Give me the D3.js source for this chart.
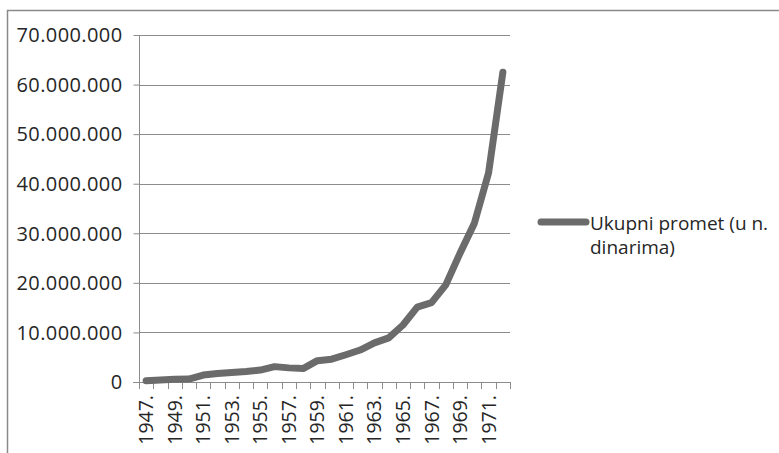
<!DOCTYPE html>
<html>
<head>
<meta charset="utf-8">
<script src="https://cdn.jsdelivr.net/npm/d3@7"></script>
<style>
  body { margin: 0; background: #fff; }
  svg { display: block; font-family: "Open Sans", sans-serif; }
</style>
</head>
<body>
<svg id="chart" width="779" height="453"></svg>
<script>
// years on the category axis
var years = ['1947.', '1948.', '1949.', '1950.', '1951.', '1952.', '1953.', '1954.',
  '1955.', '1956.', '1957.', '1958.', '1959.', '1960.', '1961.', '1962.', '1963.',
  '1964.', '1965.', '1966.', '1967.', '1968.', '1969.', '1970.', '1971.', '1972.'];
// Ukupni promet (u n. dinarima)
var promet = [250000, 400000, 550000, 600000, 1400000, 1700000, 1900000, 2100000,
  2400000, 3100000, 2850000, 2700000, 4300000, 4600000, 5500000, 6450000, 7900000,
  8900000, 11500000, 15100000, 16000000, 19600000, 26000000, 32000000, 42200000, 62500000];
var yTicks = [0, 10000000, 20000000, 30000000, 40000000, 50000000, 60000000, 70000000];
var seriesName = ['Ukupni promet (u n.', 'dinarima)'];

var svg = d3.select('#chart');
var plotLeft = 139, plotRight = 510, plotTop = 35, plotBottom = 382;
var lineColor = '#6b6b6b';
var gridColor = '#8c8c8c';

var fmt = d3.formatLocale({ decimal: ',', thousands: '.', grouping: [3], currency: ['', ''] }).format(',.0f');

var x = d3.scaleBand().domain(years).range([plotLeft, plotRight]).padding(0);
var y = d3.scaleLinear().domain([0, 70000000]).range([plotBottom, plotTop]);

// chart frame
svg.append('rect')
  .attr('x', 7.5).attr('y', 10.5)
  .attr('width', 900).attr('height', 600)
  .attr('fill', 'none').attr('stroke', '#8a8a8a').attr('stroke-width', 1.5);

// gridlines
svg.append('g').selectAll('line').data(yTicks.slice(1)).enter().append('line')
  .attr('x1', plotLeft).attr('x2', plotRight)
  .attr('y1', d => Math.round(y(d)) + 0.5).attr('y2', d => Math.round(y(d)) + 0.5)
  .attr('stroke', gridColor).attr('stroke-width', 1);

// y axis
var yAxis = svg.append('g')
  .attr('transform', `translate(${plotLeft + 0.5},0)`)
  .call(d3.axisLeft(y).tickValues(yTicks).tickFormat(fmt).tickSize(6).tickPadding(11));
yAxis.select('.domain').attr('stroke', gridColor).attr('d', `M0,${plotTop}V${plotBottom}`);
yAxis.selectAll('.tick line').attr('stroke', gridColor);
yAxis.selectAll('.tick text')
  .attr('fill', '#262626').attr('font-size', 20)
  .attr('font-family', '"Open Sans", sans-serif')
  .attr('letter-spacing', 0.4)
  .attr('dy', '0.34em');

// x axis
svg.append('line')
  .attr('x1', plotLeft - 6).attr('x2', plotRight)
  .attr('y1', plotBottom + 0.5).attr('y2', plotBottom + 0.5)
  .attr('stroke', gridColor);
var bounds = years.map(d => x(d)).concat([x.range()[1]]);
svg.append('g').selectAll('line').data(bounds).enter().append('line')
  .attr('x1', d => Math.round(d) + 0.5).attr('x2', d => Math.round(d) + 0.5)
  .attr('y1', plotBottom).attr('y2', plotBottom + 7)
  .attr('stroke', gridColor);

var xAxis = svg.append('g')
  .attr('transform', `translate(0,${plotBottom})`)
  .call(d3.axisBottom(x).tickValues(years.filter((d, i) => i % 2 === 0)).tickSize(0));
xAxis.select('.domain').remove();
xAxis.selectAll('.tick text')
  .attr('fill', '#262626').attr('font-size', 19.5)
  .attr('font-family', '"Open Sans", sans-serif')
  .attr('text-anchor', 'end')
  .attr('transform', 'rotate(-90)')
  .attr('x', -13).attr('y', 0).attr('dy', '0.36em');

// series line
var line = d3.line()
  .x((d, i) => x(years[i]) + x.bandwidth() / 2)
  .y(d => y(d));
svg.append('path')
  .datum(promet)
  .attr('d', line)
  .attr('fill', 'none')
  .attr('stroke', lineColor)
  .attr('stroke-width', 7)
  .attr('stroke-linejoin', 'round')
  .attr('stroke-linecap', 'round');

// legend
var legend = svg.append('g').attr('transform', 'translate(541,222)');
legend.append('line')
  .attr('x1', 0).attr('x2', 45).attr('y1', 0).attr('y2', 0)
  .attr('stroke', lineColor).attr('stroke-width', 7).attr('stroke-linecap', 'round');
legend.selectAll('text').data(seriesName).enter().append('text')
  .attr('x', 49).attr('y', (d, i) => 8 + i * 24)
  .attr('fill', '#262626').attr('font-size', 19)
  .text(d => d);
</script>
</body>
</html>
